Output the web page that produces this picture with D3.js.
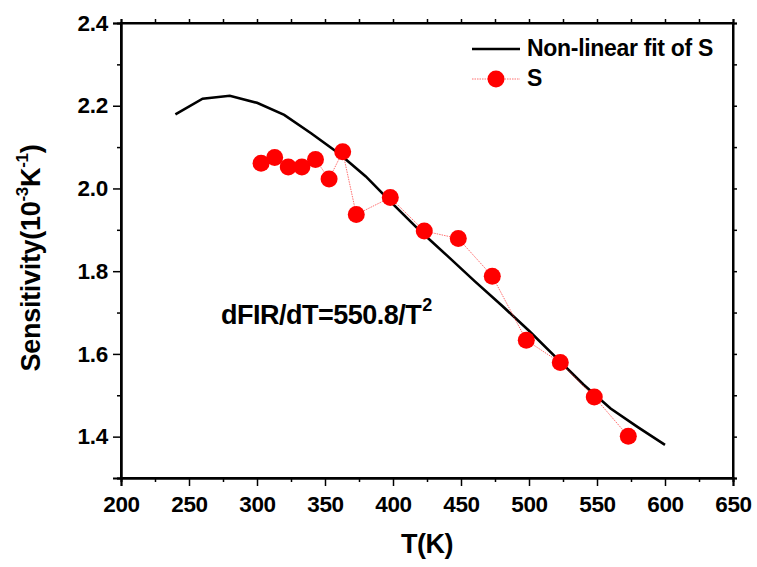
<!DOCTYPE html>
<html>
<head>
<meta charset="utf-8">
<script src="https://cdn.jsdelivr.net/npm/d3@7"></script>
<style>
  body { margin: 0; background: #fff; }
  svg { display: block; font-family: "Liberation Sans", Arial, sans-serif; font-weight: bold; }
</style>
</head>
<body>
<svg></svg>
<script>
// measured temperatures (K) and sensitivity S (10^-3 K^-1)
let tempS = [303, 313, 323, 333, 343, 353, 363, 373, 398, 423, 448, 473, 498, 523, 548, 573];
let valS = [2.061, 2.075, 2.052, 2.052, 2.070, 2.023, 2.089, 1.937, 1.978, 1.897, 1.879, 1.788, 1.633, 1.579, 1.496, 1.401];

// non-linear fit curve
let tempFit = [240, 260, 280, 300, 320, 340, 360, 380, 400, 420, 440, 460, 480, 500, 520, 540, 560, 580, 600];
let valFit = [2.179, 2.217, 2.224, 2.207, 2.178, 2.133, 2.085, 2.029, 1.962, 1.897, 1.837, 1.776, 1.717, 1.656, 1.591, 1.526, 1.468, 1.423, 1.380];

let xMajor = [200, 250, 300, 350, 400, 450, 500, 550, 600, 650];
let xMinor = [225, 275, 325, 375, 425, 475, 525, 575, 625];
let yMajor = [1.4, 1.6, 1.8, 2.0, 2.2, 2.4];
let yMinor = [1.3, 1.5, 1.7, 1.9, 2.1, 2.3];

let svg = d3.select("svg").attr("width", 757).attr("height", 567);

let pLeft = 121, pRight = 733, pTop = 23, pBottom = 478;

let x = d3.scaleLinear().domain([200, 650]).range([pLeft, pRight]);
let y = d3.scaleLinear().domain([1.3, 2.4]).range([pBottom, pTop]);

// minor ticks
svg.append("g")
    .attr("transform", `translate(0,${pBottom})`)
    .call(d3.axisBottom(x).tickValues(xMinor).tickSize(4).tickFormat(""));
svg.append("g")
    .attr("transform", `translate(${pLeft},0)`)
    .call(d3.axisLeft(y).tickValues(yMinor).tickSize(4).tickFormat(""));
// mirrored top / right ticks
svg.append("g")
    .attr("transform", `translate(0,${pTop})`)
    .call(d3.axisTop(x).tickValues(xMajor.concat(xMinor)).tickSize(4).tickFormat(""));
svg.append("g")
    .attr("transform", `translate(${pRight},0)`)
    .call(d3.axisRight(y).tickValues(yMajor.concat(yMinor)).tickSize(4).tickFormat(""));

// major ticks with labels
svg.append("g")
    .attr("transform", `translate(0,${pBottom})`)
    .call(d3.axisBottom(x).tickValues(xMajor).tickSize(8).tickPadding(10).tickFormat(d3.format("d")));
svg.append("g")
    .attr("transform", `translate(${pLeft},0)`)
    .call(d3.axisLeft(y).tickValues(yMajor).tickSize(8).tickPadding(5).tickFormat(d3.format(".1f")));

svg.selectAll(".domain").style("stroke", "#000").style("stroke-width", 2);
svg.selectAll(".tick line").style("stroke", "#000").style("stroke-width", 1.5);
svg.selectAll(".tick text")
    .style("font-family", "'Liberation Sans', Arial, sans-serif")
    .style("font-weight", "bold")
    .style("font-size", "22.5px")
    .style("letter-spacing", "-0.3px")
    .style("fill", "#000");

// frame
svg.append("rect")
    .attr("x", pLeft).attr("y", pTop)
    .attr("width", pRight - pLeft).attr("height", pBottom - pTop)
    .style("fill", "none").style("stroke", "#000").style("stroke-width", 2);

// fit line
let line = d3.line().x((d, i) => x(tempFit[i])).y(d => y(d));
svg.append("path")
    .attr("d", line(valFit))
    .style("fill", "none").style("stroke", "#000").style("stroke-width", 2.6);

// S data
let lineS = d3.line().x((d, i) => x(tempS[i])).y(d => y(d));
svg.append("path")
    .attr("d", lineS(valS))
    .style("fill", "none").style("stroke", "#ff3030").style("stroke-width", 0.7)
    .style("stroke-dasharray", "1.5,1");
svg.append("g").selectAll("circle")
    .data(valS)
    .join("circle")
    .attr("cx", (d, i) => x(tempS[i]))
    .attr("cy", d => y(d))
    .attr("r", 8.5)
    .style("fill", "red");

// legend
let legend = svg.append("g").style("font-size", "23px").style("letter-spacing", "-0.3px");
legend.append("line")
    .attr("x1", 472).attr("x2", 520).attr("y1", 49).attr("y2", 49)
    .style("stroke", "#000").style("stroke-width", 2.6);
legend.append("text").attr("x", 527).attr("y", 56).text("Non-linear fit of S");
legend.append("line")
    .attr("x1", 472).attr("x2", 520).attr("y1", 79).attr("y2", 79)
    .style("stroke", "#ff3030").style("stroke-width", 0.7).style("stroke-dasharray", "1.5,1");
legend.append("circle").attr("cx", 496).attr("cy", 79).attr("r", 8.5).style("fill", "red");
legend.append("text").attr("x", 527).attr("y", 86).text("S");

// annotation
let ann = svg.append("text").attr("x", 221).attr("y", 324)
    .style("font-size", "27px").style("letter-spacing", "-0.5px");
ann.append("tspan").text("dFIR/dT=550.8/T");
ann.append("tspan").attr("dy", -13).attr("dx", 1).style("font-size", "18px").text("2");

// axis titles
svg.append("text")
    .attr("x", (pLeft + pRight) / 2).attr("y", 553)
    .attr("text-anchor", "middle")
    .style("font-size", "27px").style("letter-spacing", "-0.5px")
    .text("T(K)");

let yt = svg.append("text")
    .attr("transform", "translate(40,258) rotate(-90)")
    .attr("text-anchor", "middle")
    .style("font-size", "27px").style("letter-spacing", "-0.3px");
yt.append("tspan").text("Sensitivity(10");
yt.append("tspan").attr("dy", -12).style("font-size", "17px").text("-3");
yt.append("tspan").attr("dy", 12).text("K");
yt.append("tspan").attr("dy", -12).style("font-size", "17px").text("-1");
yt.append("tspan").attr("dy", 12).text(")");
</script>
</body>
</html>
